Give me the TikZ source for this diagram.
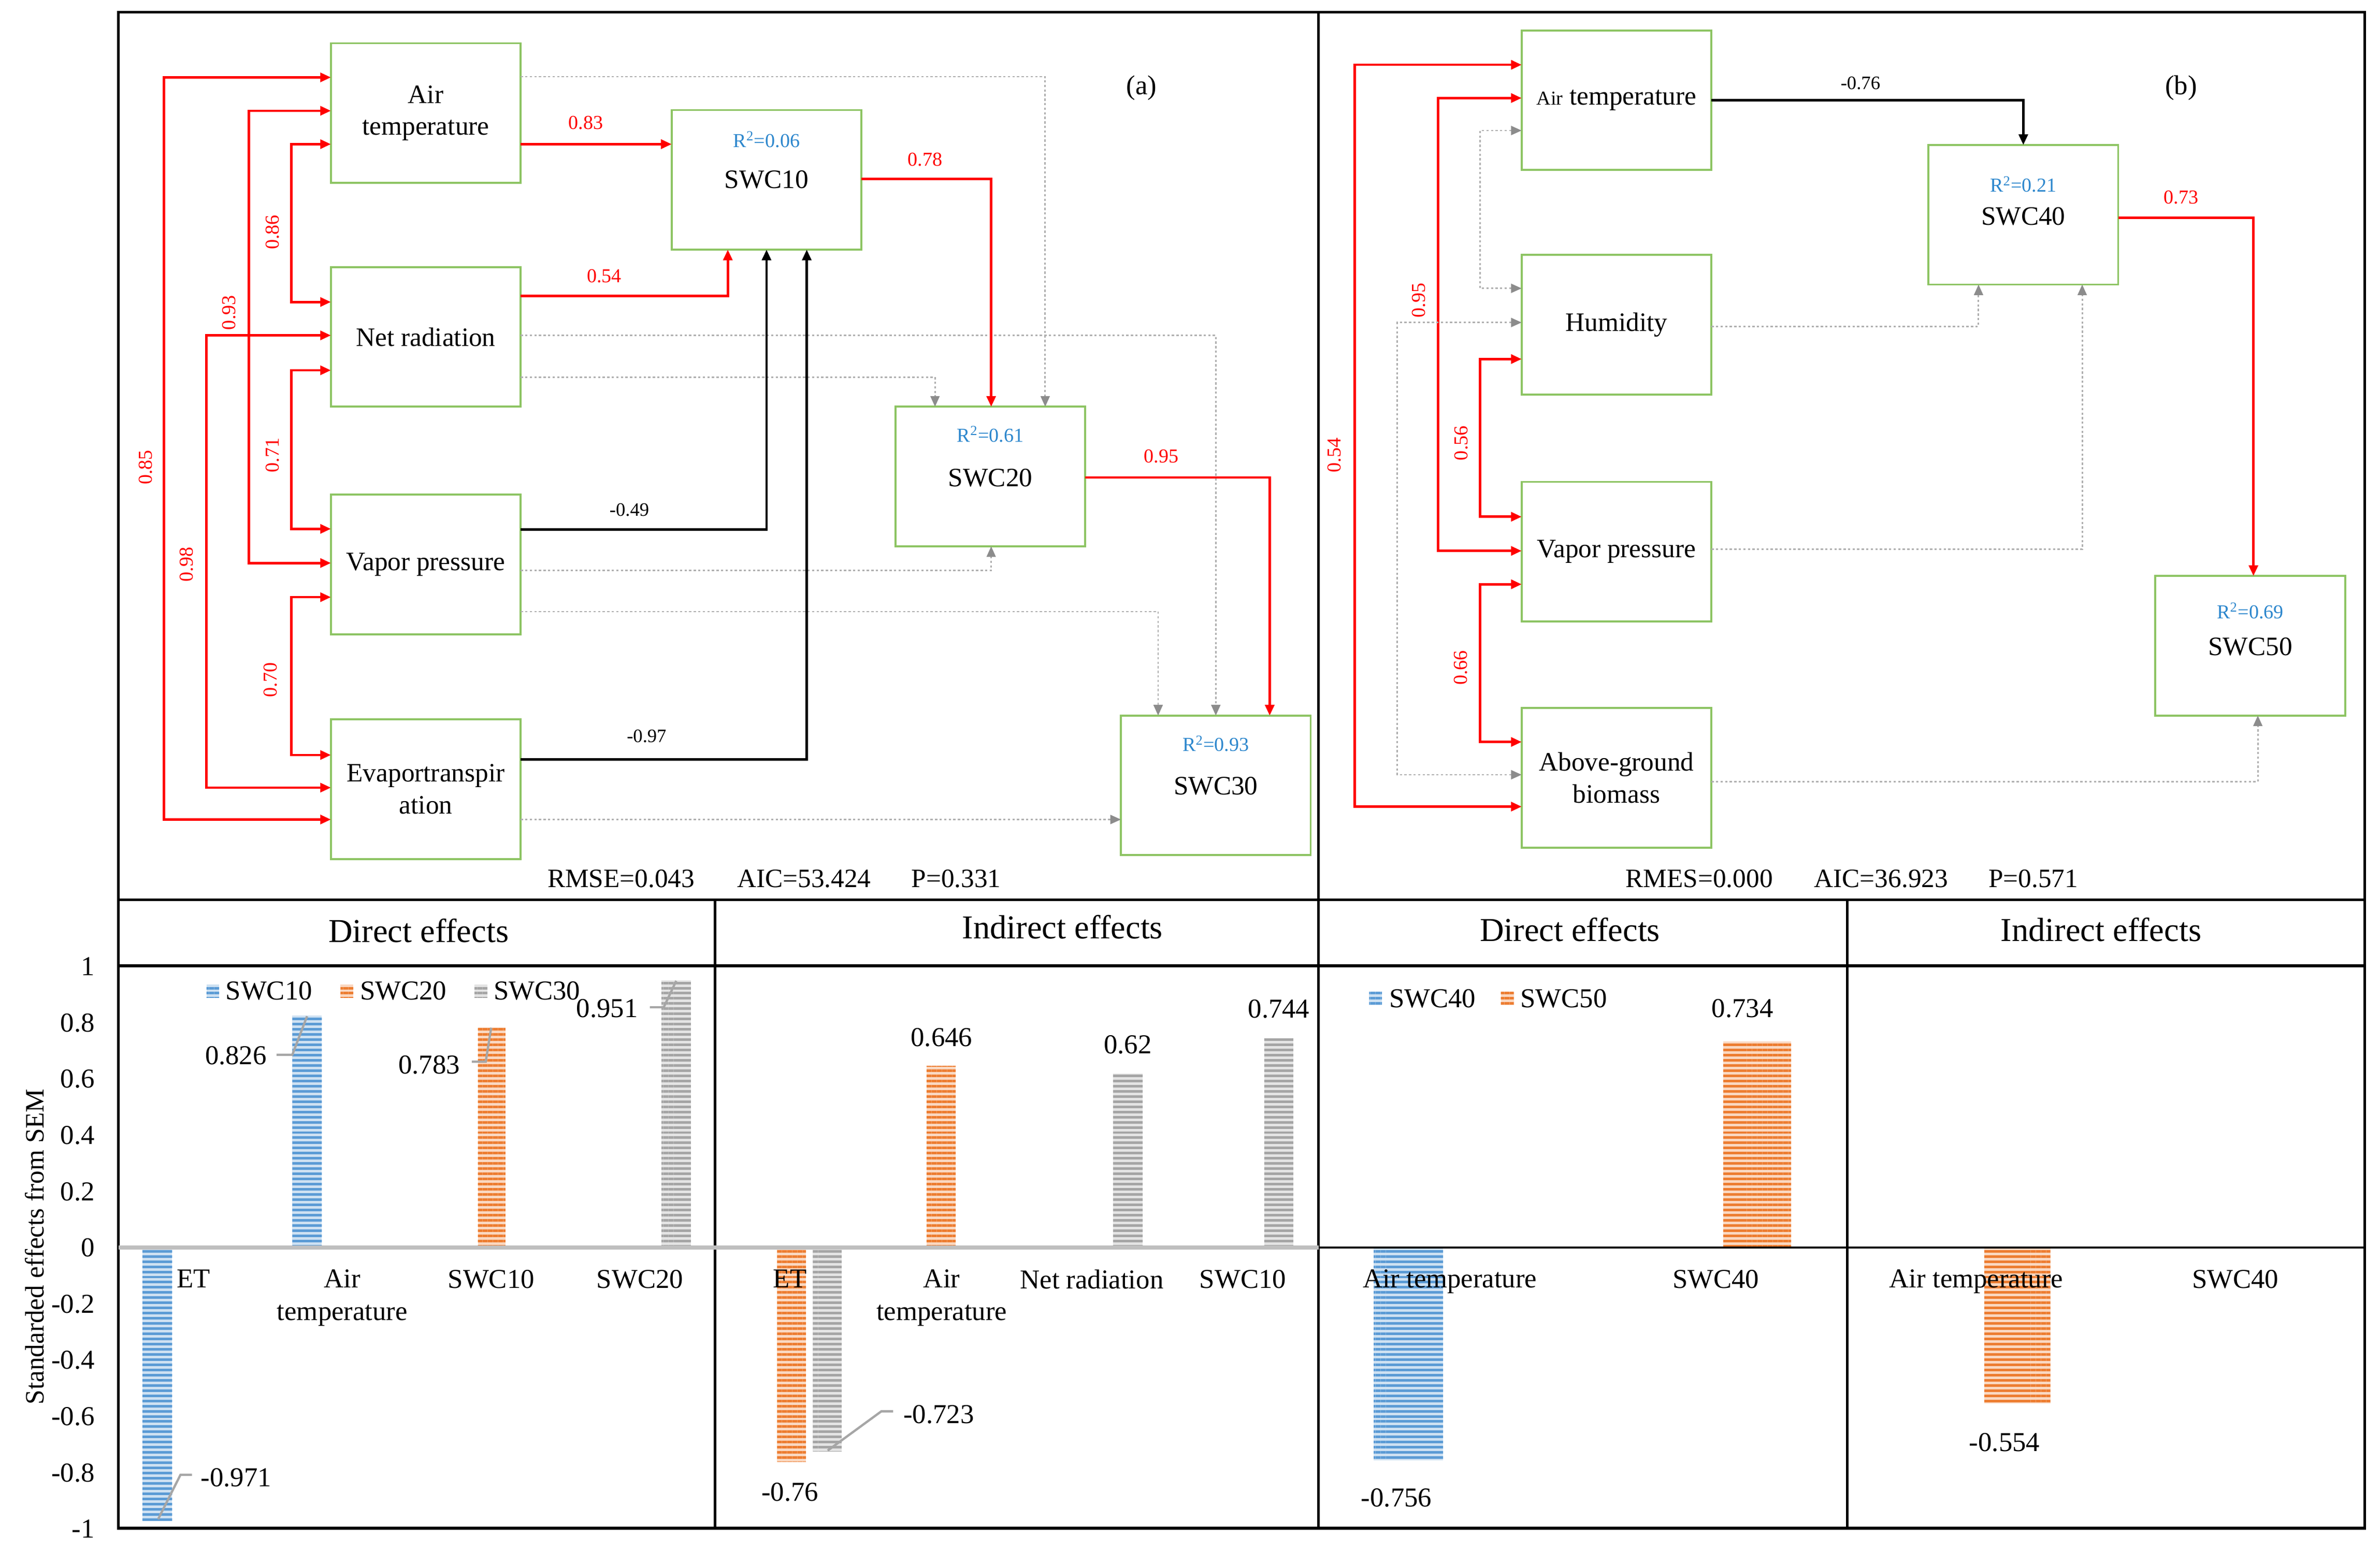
\documentclass[tikz,border=0pt]{standalone}
\usepackage{fontspec}
\setmainfont{Liberation Serif}
\usetikzlibrary{arrows.meta,calc,patterns.meta}
\definecolor{boxgreen}{RGB}{141,196,99}
\definecolor{rblue}{RGB}{45,135,205}
\definecolor{dotgray}{RGB}{175,175,175}
\definecolor{tipgray}{RGB}{140,140,140}
\definecolor{cblue}{RGB}{91,155,213}
\definecolor{corange}{RGB}{237,125,49}
\definecolor{cgray}{RGB}{165,165,165}
\definecolor{zgray}{RGB}{191,191,191}
\definecolor{lgray}{RGB}{166,166,166}
\newcommand\fsz[2]{\fontsize{#1}{#2}\selectfont}
\begin{document}
\begin{tikzpicture}[x=1pt,y=-1pt,
 box/.style={draw=boxgreen,line width=1.3pt,minimum width=125pt,minimum height=92pt,anchor=north west,inner sep=0pt,outer sep=0pt,align=center,font=\fsz{17.5}{21}},
 rtxt/.style={text=rblue,font=\fsz{13}{15},inner sep=0pt},
 ntxt/.style={font=\fsz{17.5}{21},inner sep=0pt},
 redc/.style={draw=red,line width=1.6pt,{Triangle[length=7pt,width=6pt]}-{Triangle[length=7pt,width=6pt]}},
 redd/.style={draw=red,line width=1.6pt,-{Triangle[length=7pt,width=6pt]}},
 blkd/.style={draw=black,line width=1.6pt,-{Triangle[length=7pt,width=6pt]}},
 dotd/.style={draw=dotgray,line width=1pt,dash pattern=on 1.5pt off 1.5pt,-{Triangle[length=7pt,width=6pt,color=tipgray]}},
 dotc/.style={draw=dotgray,line width=1pt,dash pattern=on 1.5pt off 1.5pt,{Triangle[length=7pt,width=6pt,color=tipgray]}-{Triangle[length=7pt,width=6pt,color=tipgray]}},
 elab/.style={text=red,font=\fsz{13}{15},inner sep=0pt},
 klab/.style={text=black,font=\fsz{12.5}{15},inner sep=0pt},
 stat/.style={font=\fsz{17.5}{21},inner sep=0pt},
 hdr/.style={font=\fsz{22}{26},inner sep=0pt},
 ctxt/.style={font=\fsz{18}{21.4},inner sep=0pt,align=center,anchor=north},
 dlab/.style={font=\fsz{18}{21},inner sep=0pt},
 frame/.style={line width=1.8pt,draw=black},
 bar/.style={preaction={fill=#1!30},pattern={Lines[angle=0,distance=3.4pt,line width=1.7pt]},pattern color=#1},
 leader/.style={draw=lgray,line width=1.5pt}
]
\useasboundingbox (0,0) rectangle (1568,1021.7);
\fill[white] (0,0) rectangle (1568,1021.7);

% ---------------- panel (a) boxes
\node[box] (ATa) at (218,28.5) {Air\\temperature};
\node[box] (NRa) at (218,176) {Net radiation};
\node[box] (VPa) at (218,326) {Vapor pressure};
\node[box] (ETa) at (218,474) {Evaportranspir\\ation};
\node[box] (S10) at (442.5,72.5) {};
\node[box] (S20) at (590,268) {};
\node[box] (S30) at (738.5,471.5) {};
\node[rtxt] (S10r) at ($(S10.north)+(0,19.5)$) {R\textsuperscript{2}=0.06};
\node[ntxt] (S10n) at ($(S10.north)+(0,46)$) {SWC10};
\node[rtxt] (S20r) at ($(S20.north)+(0,18)$) {R\textsuperscript{2}=0.61};
\node[ntxt] (S20n) at ($(S20.north)+(0,47)$) {SWC20};
\node[rtxt] (S30r) at ($(S30.north)+(0,18.5)$) {R\textsuperscript{2}=0.93};
\node[ntxt] (S30n) at ($(S30.north)+(0,46.5)$) {SWC30};

% correlations (a)
\draw[redc] ($(ATa.north west)+(0,22.5)$) -- ++(-110,0) |- ($(ETa.north west)+(0,66)$);
\draw[redc] ($(ATa.north west)+(0,44.5)$) -- ++(-54,0) |- ($(VPa.north west)+(0,45)$);
\draw[redc] ($(ATa.north west)+(0,66.5)$) -- ++(-26,0) |- ($(NRa.north west)+(0,23)$);
\draw[redc] ($(NRa.north west)+(0,45)$) -- ++(-82,0) |- ($(ETa.north west)+(0,45)$);
\draw[redc] ($(NRa.north west)+(0,68)$) -- ++(-26,0) |- ($(VPa.north west)+(0,22.5)$);
\draw[redc] ($(VPa.north west)+(0,67.5)$) -- ++(-26,0) |- ($(ETa.north west)+(0,23.5)$);
\node[elab,rotate=90] (l085) at (96,308) {0.85};
\node[elab,rotate=90] (l098) at (123,372) {0.98};
\node[elab,rotate=90] (l093) at (151,206) {0.93};
\node[elab,rotate=90] (l086) at (179.5,153) {0.86};
\node[elab,rotate=90] (l071) at (179.5,300) {0.71};
\node[elab,rotate=90] (l070) at (178,448) {0.70};

% dotted (a)
\draw[dotd] ($(ATa.north east)+(0,22)$) -| ($(S20.north west)+(98.6,0)$);
\draw[dotd] ($(NRa.north east)+(0,45)$) -| ($(S30.north west)+(62.5,0)$);
\draw[dotd] ($(NRa.north east)+(0,72.5)$) -| ($(S20.north west)+(26,0)$);
\draw[dotd] ($(VPa.north east)+(0,50)$) -| ($(S20.south west)+(63,0)$);
\draw[dotd] ($(VPa.north east)+(0,77)$) -| ($(S30.north west)+(24.5,0)$);
\draw[dotd] ($(ETa.north east)+(0,66)$) -- ($(S30.north west)+(0,68.5)$);

% directed (a)
\draw[redd] ($(ATa.north east)+(0,66.5)$) -- ($(S10.north west)+(0,22.5)$);
\draw[redd] ($(NRa.north east)+(0,19)$) -| ($(S10.south west)+(37,0)$);
\draw[blkd] ($(VPa.north east)+(0,23)$) -| ($(S10.south west)+(62.5,0)$);
\draw[blkd] ($(ETa.north east)+(0,26.5)$) -| ($(S10.south west)+(89,0)$);
\draw[redd] ($(S10.north east)+(0,45.5)$) -| ($(S20.north west)+(63,0)$);
\draw[redd] ($(S20.north east)+(0,46.6)$) -| ($(S30.north west)+(98,0)$);
\node[elab] (l083) at (386,81) {0.83};
\node[elab] (l054) at (398,182) {0.54};
\node[klab] (l049) at (414.6,336) {-0.49};
\node[klab] (l097) at (426,485) {-0.97};
\node[elab] (l078) at (609.5,105) {0.78};
\node[elab] (l095) at (765,300.7) {0.95};
\node[font=\fsz{18}{21},inner sep=0pt] (pa) at (752,58) {(a)};
\node[stat] (st1) at (409.2,579) {RMSE=0.043};
\node[stat] (st2) at (529.7,579) {AIC=53.424};
\node[stat] (st3) at (630,579) {P=0.331};

% ---------------- panel (b) boxes
\node[box] (ATb) at (1002.5,20) {{\fsz{13}{15}Air} temperature};
\node[box] (HUb) at (1002.5,168) {Humidity};
\node[box] (VPb) at (1002.5,317.5) {Vapor pressure};
\node[box] (AGb) at (1002.5,466.5) {Above-ground\\biomass};
\node[box] (S40) at (1270.5,95.5) {};
\node[box] (S50) at (1420,379.5) {};
\node[rtxt] (S40r) at ($(S40.north)+(0,26)$) {R\textsuperscript{2}=0.21};
\node[ntxt] (S40n) at ($(S40.north)+(0,47)$) {SWC40};
\node[rtxt] (S50r) at ($(S50.north)+(0,23)$) {R\textsuperscript{2}=0.69};
\node[ntxt] (S50n) at ($(S50.north)+(0,46.5)$) {SWC50};

\draw[redc] ($(ATb.north west)+(0,22.7)$) -- ++(-110,0) |- ($(AGb.north west)+(0,65)$);
\draw[redc] ($(ATb.north west)+(0,44.6)$) -- ++(-55,0) |- ($(VPb.north west)+(0,45.5)$);
\draw[dotc] ($(ATb.north west)+(0,66)$) -- ++(-27.5,0) |- ($(HUb.north west)+(0,22)$);
\draw[dotc] ($(HUb.north west)+(0,44.5)$) -- ++(-82,0) |- ($(AGb.north west)+(0,44)$);
\draw[redc] ($(HUb.north west)+(0,68.6)$) -- ++(-27.5,0) |- ($(VPb.north west)+(0,23)$);
\draw[redc] ($(VPb.north west)+(0,67.5)$) -- ++(-27.5,0) |- ($(AGb.north west)+(0,22.4)$);
\node[elab,rotate=90] (m054) at (879,300) {0.54};
\node[elab,rotate=90] (m095) at (934.6,198) {0.95};
\node[elab,rotate=90] (m056) at (962.7,292) {0.56};
\node[elab,rotate=90] (m066) at (962.3,440) {0.66};

\draw[dotd] ($(HUb.north east)+(0,47)$) -| ($(S40.south west)+(33,0)$);
\draw[dotd] ($(VPb.north east)+(0,44.5)$) -| ($(S40.south west)+(101.3,0)$);
\draw[dotd] ($(AGb.north east)+(0,48.5)$) -| ($(S50.south west)+(67.5,0)$);
\draw[blkd] ($(ATb.north east)+(0,46)$) -| ($(S40.north west)+(62.5,0)$);
\draw[redd] ($(S40.north east)+(0,48)$) -| ($(S50.north west)+(64.6,0)$);
\node[klab] (m076) at (1225.7,54.8) {-0.76};
\node[elab] (m073) at (1437,130) {0.73};
\node[font=\fsz{18}{21},inner sep=0pt] (pb) at (1437,57.8) {(b)};
\node[stat] (sb1) at (1119.5,579) {RMES=0.000};
\node[stat] (sb2) at (1239.3,579) {AIC=36.923};
\node[stat] (sb3) at (1339.6,579) {P=0.571};

% ---------------- table frame
\draw[frame] (78,8) rectangle (1558,1007);
\draw[frame] (868.7,8) -- (868.7,1007);
\draw[frame] (78,593) -- (1558,593);
\draw[frame] (78,636.4) -- (1558,636.4);
\draw[frame] (471,593) -- (471,1007);
\draw[frame] (1217,593) -- (1217,1007);
\node[hdr] (h1) at (275.8,613.3) {Direct effects};
\node[hdr] (h2) at (700,611) {Indirect effects};
\node[hdr] (h3) at (1034.3,612.5) {Direct effects};
\node[hdr] (h4) at (1384.2,612.5) {Indirect effects};

% y axis
\foreach \v/\t [count=\i] in {1/1,0.8/0.8,0.6/0.6,0.4/0.4,0.2/0.2,0/0,-0.2/-0.2,-0.4/-0.4,-0.6/-0.6,-0.8/-0.8,-1/-1}
  \node[dlab,anchor=east] (tk\i) at (62.5,{822.2-185.3*\v}) {\t};
\node[font=\fsz{17.5}{21},inner sep=0pt,rotate=90] (ylab) at (22.9,821.5) {Standarded effects from SEM};

% bars
\path[bar=cblue] (93.9,822.2) rectangle (113.4,{822.2+185.3*0.971});
\path[bar=cblue] (192.6,822.2) rectangle (212,{822.2-185.3*0.826});
\path[bar=corange] (314.8,822.2) rectangle (333,{822.2-185.3*0.783});
\path[bar=cgray] (435.8,822.2) rectangle (455.2,{822.2-185.3*0.951});
\path[bar=corange] (512,822.2) rectangle (531,{822.2+185.3*0.76});
\path[bar=cgray] (535.4,822.2) rectangle (554.5,{822.2+185.3*0.723});
\path[bar=corange] (610.4,822.2) rectangle (629.6,{822.2-185.3*0.646});
\path[bar=cgray] (733.4,822.2) rectangle (752.8,{822.2-185.3*0.62});
\path[bar=cgray] (832.9,822.2) rectangle (852,{822.2-185.3*0.744});
\path[bar=cblue] (905,822.2) rectangle (950.7,{822.2+185.3*0.756});
\path[bar=corange] (1135.3,822.2) rectangle (1180,{822.2-185.3*0.734});
\path[bar=corange] (1307.3,822.2) rectangle (1350.8,{822.2+185.3*0.554});

% zero lines
\draw[zgray,line width=2.5pt] (78,822) -- (868.7,822);
\draw[black,line width=1.6pt] (868.7,822) -- (1558,822);

% legends
\path[bar=cblue] (136,648.8) rectangle ++(8.5,8.5);
\node[dlab,anchor=west] (lg1) at (148.5,653) {SWC10};
\path[bar=corange] (224.3,648.8) rectangle ++(8.5,8.5);
\node[dlab,anchor=west] (lg2) at (237,653) {SWC20};
\path[bar=cgray] (312.6,648.8) rectangle ++(8.5,8.5);
\node[dlab,anchor=west] (lg3) at (325,653) {SWC30};
\path[bar=cblue] (902,653.8) rectangle ++(8.5,8.5);
\node[dlab,anchor=west] (lg4) at (915,658) {SWC40};
\path[bar=corange] (988.8,653.8) rectangle ++(8.5,8.5);
\node[dlab,anchor=west] (lg5) at (1001.5,658) {SWC50};

% category labels
\node[ctxt] (c1) at (127.5,836.5) {ET};
\node[ctxt] (c2) at (225.5,836.5) {Air\\temperature};
\node[ctxt] (c3) at (323.6,836.5) {SWC10};
\node[ctxt] (c4) at (421.6,836.5) {SWC20};
\node[ctxt] (c5) at (520.4,836.5) {ET};
\node[ctxt] (c6) at (620.4,836.5) {Air\\temperature};
\node[ctxt] (c7) at (719.3,836.5) {Net radiation};
\node[ctxt] (c8) at (818.8,836.5) {SWC10};
\node[ctxt] (c9) at (955.3,836.5) {Air temperature};
\node[ctxt] (c10) at (1130.4,836.5) {SWC40};
\node[ctxt] (c11) at (1302,836.5) {Air temperature};
\node[ctxt] (c12) at (1472.7,836.5) {SWC40};

% data labels
\node[dlab] (d1) at (155.4,695.5) {0.826};
\draw[leader] (182.2,695) -- (192.6,695) -- (202.3,669.6);
\node[dlab] (d2) at (282.8,701.7) {0.783};
\draw[leader] (310.8,699.6) -- (320,699.6) -- (323.6,677.2);
\node[dlab] (d3) at (400,664.6) {0.951};
\draw[leader] (428.1,663.7) -- (437.3,663.7) -- (445.5,646.3);
\node[dlab] (d4) at (155.5,973.6) {-0.971};
\draw[leader] (126.5,971.8) -- (118.9,971.8) -- (104.2,1001);
\node[dlab] (d5) at (620.3,683.7) {0.646};
\node[dlab] (d6) at (743,688.5) {0.62};
\node[dlab] (d7) at (842.5,665) {0.744};
\node[dlab] (d8) at (520.5,983.3) {-0.76};
\node[dlab] (d9) at (618.5,932) {-0.723};
\draw[leader] (545.3,955.8) -- (580.6,930) -- (588.4,930);
\node[dlab] (d10) at (1148,664.6) {0.734};
\node[dlab] (d11) at (920,987) {-0.756};
\node[dlab] (d12) at (1320.6,950.4) {-0.554};
\end{tikzpicture}
\end{document}
